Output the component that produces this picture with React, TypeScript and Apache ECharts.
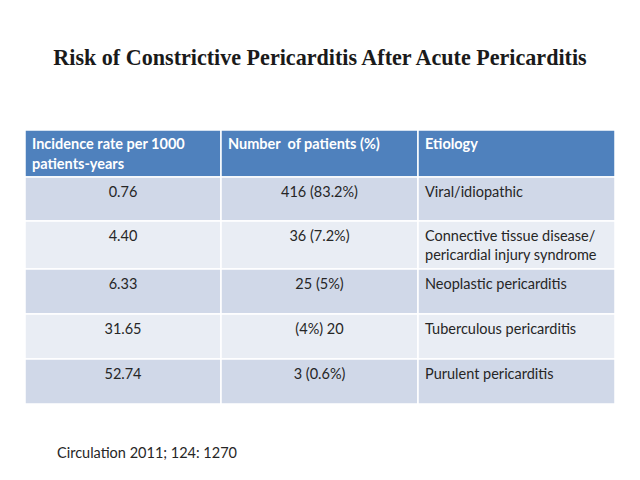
import React, { useEffect, useRef } from "react";
import * as echarts from "echarts";

const title = "Risk of Constrictive Pericarditis After Acute Pericarditis";
const headers = ["Incidence rate per 1000\npatients-years", "Number  of patients (%)", "Etiology"];
const rates = ["0.76", "4.40", "6.33", "31.65", "52.74"];
const patients = ["416 (83.2%)", "36 (7.2%)", "25 (5%)", "(4%) 20", "3 (0.6%)"];
const etiologies = [
  "Viral/idiopathic",
  "Connective tissue disease/\npericardial injury syndrome",
  "Neoplastic pericarditis",
  "Tuberculous pericarditis",
  "Purulent pericarditis",
];
const source = "Circulation 2011; 124: 1270";

const colX = [25, 221, 418, 615];
const rowY = [130, 177, 221, 269, 314, 359, 404];

export default function App() {
  const ref = useRef<HTMLDivElement>(null);
  useEffect(() => {
    if (!ref.current) return;
    const chart = echarts.init(ref.current, null, { renderer: "svg" });
    const font = "Lato, 'Open Sans', sans-serif";
    const ink = "#262626";
    const els: any[] = [];
    for (let r = 0; r < 6; r++) {
      const fill = r === 0 ? "#4F81BD" : r % 2 === 1 ? "#D0D8E8" : "#E9EDF4";
      for (let c = 0; c < 3; c++) {
        els.push({
          type: "rect",
          shape: { x: colX[c], y: rowY[r], width: colX[c + 1] - colX[c], height: rowY[r + 1] - rowY[r] },
          style: { fill, stroke: "#ffffff", lineWidth: 1.5 },
        });
      }
    }
    headers.forEach((h, c) => {
      els.push({
        type: "text",
        x: colX[c] + 7,
        y: rowY[0] + 3,
        style: { text: h, fill: "#ffffff", font: `bold 14.5px ${font}`, lineHeight: 20, textVerticalAlign: "top" },
      });
    });
    for (let r = 0; r < 5; r++) {
      const y = rowY[r + 1] + 5;
      els.push({
        type: "text", x: (colX[0] + colX[1]) / 2, y,
        style: { text: rates[r], fill: ink, font: `14.5px ${font}`, lineHeight: 19, textAlign: "center", textVerticalAlign: "top" },
      });
      els.push({
        type: "text", x: (colX[1] + colX[2]) / 2, y,
        style: { text: patients[r], fill: ink, font: `14.5px ${font}`, lineHeight: 19, textAlign: "center", textVerticalAlign: "top" },
      });
      els.push({
        type: "text", x: colX[2] + 7, y,
        style: { text: etiologies[r], fill: ink, font: `14.5px ${font}`, lineHeight: 19, textVerticalAlign: "top" },
      });
    }
    els.push({
      type: "text", x: 320, y: 57,
      style: { text: title, fill: "#1a1a1a", font: "bold 22.1px 'Liberation Serif', serif", textAlign: "center", textVerticalAlign: "middle" },
    });
    els.push({
      type: "text", x: 57, y: 452,
      style: { text: source, fill: ink, font: `14.5px ${font}`, textVerticalAlign: "middle" },
    });
    chart.setOption({ animation: false, backgroundColor: "#ffffff", graphic: { elements: els } });
    return () => chart.dispose();
  }, []);
  return <div ref={ref} style={{ position: "fixed", left: 0, top: 0, width: 640, height: 480 }} />;
}
